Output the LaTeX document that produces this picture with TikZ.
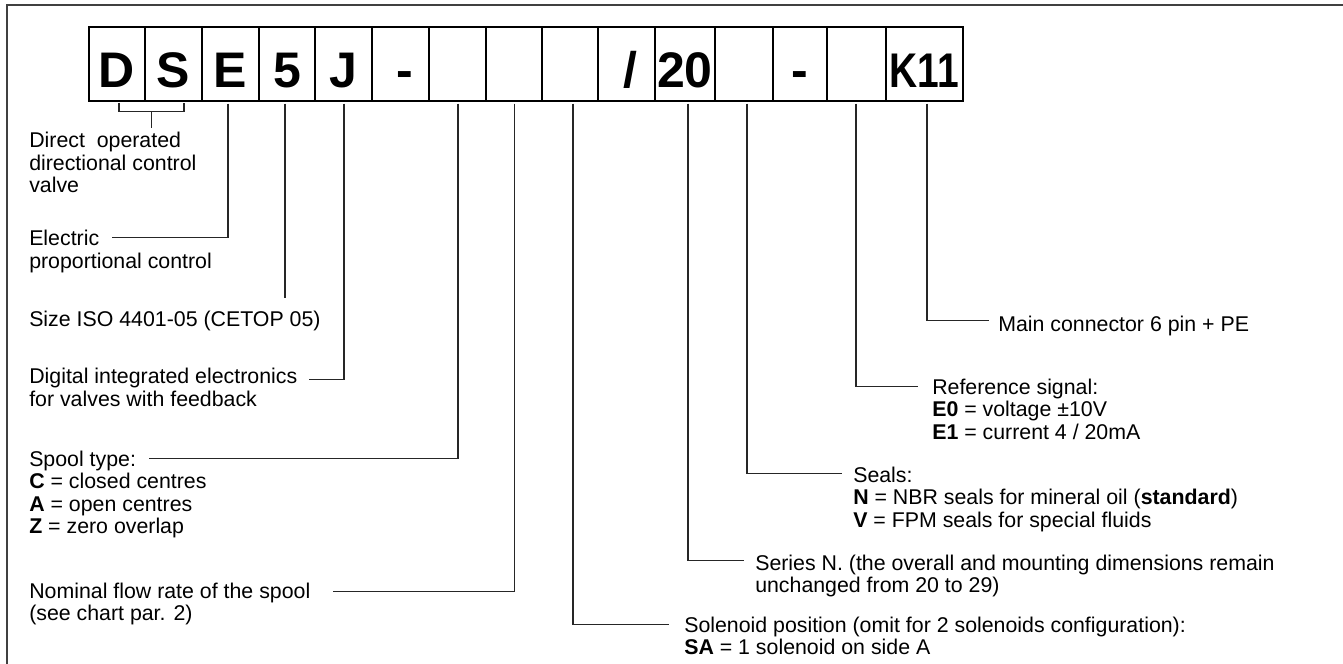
\documentclass[tikz,border=0pt]{standalone}
\usepackage{fontspec}
\setmainfont{Liberation Sans}
\usetikzlibrary{calc}
\begin{document}
\begin{tikzpicture}[x=0.75pt,y=-0.75pt,
  cell/.style={draw=black, line width=0.9pt, inner sep=0pt, minimum height=55.5pt,
    text height=34.5pt, text depth=0pt, font=\fontsize{37.5}{40}\selectfont\bfseries},
  lbl/.style={inner sep=0pt, anchor=base west, text height=11.25pt, text depth=0pt,
    font=\fontsize{16}{17}\selectfont},
  lblm/.style={inner sep=0pt, anchor=base west, font=\fontsize{16}{17}\selectfont},
  conn/.style={line width=0.8pt, draw=black!85},
  frameline/.style={line width=1.6pt, draw=black!75}]

\useasboundingbox (0,0) rectangle (1343,664);
\draw[frameline] (7,664) -- (7,5) -- (1343,5);

% code cells
\node[cell, minimum width=42pt]    (cD)  at (117,64)   {D};
\node[cell, minimum width=42.75pt] (cS)  at (173.5,64) {S};
\node[cell, minimum width=42.75pt] (cE)  at (230.5,64) {E};
\node[cell, minimum width=42pt]    (c5)  at (287,64)   {5};
\node[cell, minimum width=42.75pt] (cJ)  at (343.5,64) {J};
\node[cell, minimum width=42.75pt] (cDa) at (400.5,64) {\hspace{6pt}-};
\node[cell, minimum width=42.75pt] (cB1) at (457.5,64) {};
\node[cell, minimum width=42pt]    (cB2) at (514,64)   {};
\node[cell, minimum width=42pt]    (cB3) at (570,64)   {};
\node[cell, minimum width=42.75pt] (cSl) at (626.5,64) {\hspace{6pt}/};
\node[cell, minimum width=45pt]    (c20) at (685,64)   {20};
\node[cell, minimum width=43.5pt]  (cB4) at (744,64)   {};
\node[cell, minimum width=40.5pt]  (cDb) at (800,64)   {-};
\node[cell, minimum width=44.25pt] (cB5) at (856.5,64) {};
\node[cell, minimum width=57.75pt] (cK)  at (924.5,64) {\scalebox{0.8}[1]{\fontsize{36.5}{40}\selectfont K11}};

% left labels
\node[lbl] (tDir) at (29,147) {Direct\ \ operated};
\node[lblm] (tDir2) at ($(tDir.base west)+(0,23)$) {\begin{tabular}[t]{@{}l@{}}directional control\\valve\end{tabular}};
\node[lbl] (tEl) at (29,245) {Electric};
\node[lblm] (tEl2) at ($(tEl.base west)+(0,23)$) {proportional control};
\node[lbl] (tSize) at (29,326) {Size ISO 4401-05 (CETOP 05)};
\node[lbl] (tDig) at (29,383) {Digital integrated electronics};
\node[lblm] (tDig2) at ($(tDig.base west)+(0,23)$) {for valves with feedback};
\node[lbl] (tSp) at (29,466) {Spool type:};
\node[lblm] (tSp2) at ($(tSp.base west)+(0,22.5)$) {\begin{tabular}[t]{@{}l@{}}\textbf{C} = closed centres\\\textbf{A} = open centres\\\textbf{Z} = zero overlap\end{tabular}};
\node[lbl] (tNom) at (29,598) {Nominal flow rate of the spool};
\node[lblm] (tNom2) at ($(tNom.base west)+(0,22.5)$) {(see chart par. 2)};

% right labels
\node[lbl] (tMain) at (998,331) {Main connector 6 pin + PE};
\node[lbl] (tRef) at (932,394) {Reference signal:};
\node[lblm] (tRef2) at ($(tRef.base west)+(0,22.5)$) {\begin{tabular}[t]{@{}l@{}}\textbf{E0} = voltage ±10V\\\textbf{E1} = current 4 / 20mA\end{tabular}};
\node[lbl] (tSeal) at (853,482) {Seals:};
\node[lblm] (tSeal2) at ($(tSeal.base west)+(0,22.5)$) {\begin{tabular}[t]{@{}l@{}}\textbf{N} = NBR seals for mineral oil (\textbf{standard})\\\textbf{V} = FPM seals for special fluids\end{tabular}};
\node[lbl] (tSer) at (755,570) {Series N. (the overall and mounting dimensions remain};
\node[lblm] (tSer2) at ($(tSer.base west)+(0,22.5)$) {unchanged from 20 to 29)};
\node[lbl] (tSol) at (684,632) {Solenoid position (omit for 2 solenoids configuration):};
\node[lblm] (tSol2) at ($(tSol.base west)+(0,22)$) {\textbf{SA} = 1 solenoid on side A};

% bracket under D S
\coordinate (bl) at ($(cD.south)+(2,1)$);
\coordinate (br) at ($(cS.south)+(10.5,1)$);
\coordinate (bm) at ($(bl)!0.5!(br)+(0,9)$);
\coordinate (bt) at ($(tDir.north)+(0,-4)$);
\draw[conn] (bl) -- ++(0,9) -| (br);
\draw[conn] (bm) -- (bm |- bt);

% connectors
\draw[conn] ($(cE.south)+(-2.5,2)$) |- ($(tEl.east)+(13,0)$);
\coordinate (a5) at ($(c5.south)+(-2,2)$);
\coordinate (e5) at ($(tSize.north)+(0,-13)$);
\draw[conn] (a5) -- (a5 |- e5);
\draw[conn] ($(cJ.south)+(0.5,2)$) |- ($(tDig.east)+(11,4)$);
\draw[conn] ($(cB1.south)+(0.5,2)$) |- ($(tSp.east)+(13,0)$);
\draw[conn] ($(cB2.south)+(0.5,2)$) |- ($(tNom.east)+(22,1)$);
\draw[conn] ($(cB3.south)+(3,2)$) |- ($(tSol.west)+(-15,0)$);
\draw[conn] ($(c20.south)+(3,2)$) |- ($(tSer.west)+(-11,-2)$);
\draw[conn] ($(cB4.south)+(3,2)$) |- ($(tSeal.west)+(-11,-1)$);
\draw[conn] ($(cB5.south)+(-0.5,2)$) |- ($(tRef.west)+(-14,0)$);
\draw[conn] ($(cK.south)+(2.5,2)$) |- ($(tMain.west)+(-9,-3)$);
\end{tikzpicture}
\end{document}
